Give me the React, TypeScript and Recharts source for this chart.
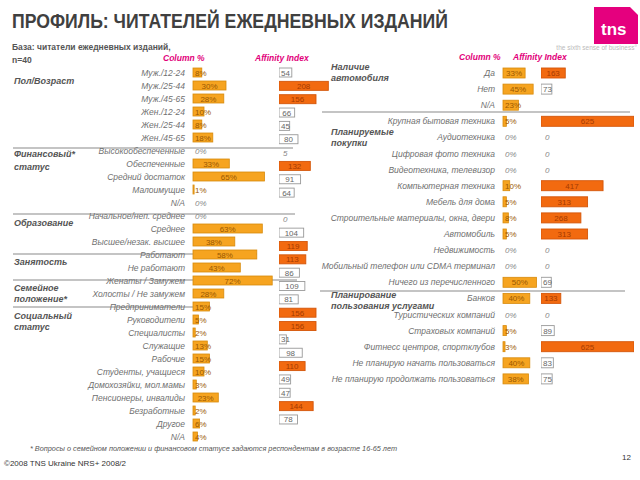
import React from 'react';
import { BarChart, Bar, XAxis, YAxis } from 'recharts';

const FONT = '"Liberation Sans", Arial, sans-serif';

// Left panel
const leftLabels = [
  'Муж./12-24', 'Муж./25-44', 'Муж./45-65', 'Жен./12-24', 'Жен./25-44', 'Жен./45-65',
  'Высокообеспеченные', 'Обеспеченные', 'Средний достаток', 'Малоимущие', 'N/A',
  'Начальное/неп. среднее', 'Среднее', 'Высшее/незак. высшее',
  'Работают', 'Не работают',
  'Женаты / Замужем', 'Холосты / Не замужем',
  'Предприниматели', 'Руководители', 'Специалисты', 'Служащие', 'Рабочие',
  'Студенты, учащиеся', 'Домохозяйки, мол.мамы', 'Пенсионеры, инвалиды', 'Безработные',
  'Другое', 'N/A',
];
const leftColumnPct = [8, 30, 28, 10, 8, 18, 0, 33, 65, 1, 0, 0, 63, 38, 58, 43, 72, 28, 15, 5, 2, 13, 15, 10, 3, 23, 2, 6, 4];
const leftAffinity: (number | null)[] = [54, 208, 156, 66, 45, 80, 5, 132, 91, 64, null, 0, 104, 119, 113, 86, 109, 81, 156, 156, 31, 98, 110, 49, 47, 144, 78, null, null];

// Right panel
const rightLabels = [
  'Да', 'Нет', 'N/A',
  'Крупная бытовая техника', 'Аудиотехника', 'Цифровая фото техника', 'Видеотехника, телевизор',
  'Компьютерная техника', 'Мебель для дома', 'Строительные материалы, окна, двери', 'Автомобиль',
  'Недвижимость', 'Мобильный телефон или CDMA терминал', 'Ничего из перечисленного',
  'Банков', 'Туристических компаний', 'Страховых компаний', 'Фитнесс центров, спортклубов',
  'Не планирую начать пользоваться', 'Не планирую продолжать пользоваться',
];
const rightColumnPct = [33, 45, 23, 5, 0, 0, 0, 10, 5, 8, 5, 0, 0, 50, 40, 0, 5, 3, 40, 38];
const rightAffinity: (number | null)[] = [163, 73, null, 625, 0, 0, 0, 417, 313, 268, 313, 0, 0, 69, 133, 0, 89, 625, 83, 75];

const leftData = leftLabels.map((name, i) => ({ id: String(i), name, pct: leftColumnPct[i], aff: leftAffinity[i] }));
const rightData = rightLabels.map((name, i) => ({ id: String(i), name, pct: rightColumnPct[i], aff: rightAffinity[i] }));

const textW = (s: string) => s.length * 4.4;

const makeColShape = () => (props: any) => {
  const { x, y, width, height, payload } = props;
  const v = payload.pct;
  const t = `${v}%`;
  const ty = y + height / 2 + 3;
  const fits = width >= textW(t) + 4;
  return (
    <g>
      {v > 0 && (
        <rect x={x} y={y} width={width} height={height} fill="#F6A420" stroke="#D88A0C" strokeWidth={0.8} />
      )}
      <text
        x={fits ? x + width / 2 : x + 2}
        y={ty}
        textAnchor={fits ? 'middle' : 'start'}
        fontSize={8}
        fontFamily={FONT}
        fontStyle={v === 0 ? 'italic' : 'normal'}
        fill={v === 0 ? '#888' : '#9A5800'}
      >
        {t}
      </text>
    </g>
  );
};

const makeAffShape = (maxW: number) => (props: any) => {
  const { x, y, height, payload } = props;
  const v = payload.aff;
  if (v == null) return <g />;
  const width = Math.min(props.width, maxW);
  const ty = y + height / 2 + 3;
  if (v < 10) {
    return (
      <text x={x + 4} y={ty} fontSize={8} fontFamily={FONT} fontStyle="italic" fill="#888">
        {String(v)}
      </text>
    );
  }
  const filled = v >= 110;
  const t = String(v);
  const fits = width >= textW(t) + 4;
  return (
    <g>
      <rect
        x={x}
        y={y}
        width={width}
        height={height}
        fill={filled ? '#F26A10' : '#FFFFFF'}
        stroke={filled ? '#D4560A' : '#999'}
        strokeWidth={0.9}
      />
      <text
        x={fits ? x + width / 2 : x + 2}
        y={ty}
        textAnchor={fits ? 'middle' : 'start'}
        fontSize={8}
        fontFamily={FONT}
        fill={filled ? '#A53A00' : '#666'}
      >
        {t}
      </text>
    </g>
  );
};

const tickStyle = { fontSize: 8.5, fill: '#707070', fontStyle: 'italic', fontFamily: FONT };

const abs = (left: number, top: number): React.CSSProperties => ({ position: 'absolute', left, top });

const sectionStyle = { fontSize: 9, fontWeight: 700, fontStyle: 'italic', fill: '#555', fontFamily: FONT } as const;
const headStyle = { fontSize: 8.5, fontWeight: 700, fontStyle: 'italic', fill: '#E2007A', fontFamily: FONT } as const;

export default function App() {
  return (
    <div style={{ position: 'absolute', left: 0, top: 0, width: 640, height: 480, background: '#fff', overflow: 'hidden', fontFamily: FONT }}>
      <svg width={640} height={480} style={abs(0, 0)}>
        <text x={12} y={28} fontSize={20} fontWeight={700} fill="#404040" fontFamily={FONT} textLength={436} lengthAdjust="spacingAndGlyphs">
          ПРОФИЛЬ: ЧИТАТЕЛЕЙ ЕЖЕДНЕВНЫХ ИЗДАНИЙ
        </text>
        {/* logo */}
        <path d="M594 7 H630 L638 15 V44 H594 Z" fill="#E5007E" />
        <text x={601} y={35} fontSize={17} fontWeight={700} fill="#fff" fontFamily={FONT}>tns</text>
        <text x={637} y={50} fontSize={6.5} fill="#bbb" textAnchor="end" fontFamily={FONT}>the sixth sense of business°</text>

        <text x={12} y={50} fontSize={8.5} fontWeight={700} fill="#555" fontFamily={FONT}>База: читатели ежедневных изданий,</text>
        <text x={12} y={63} fontSize={8.5} fontWeight={700} fill="#555" fontFamily={FONT}>n=40</text>

        <text x={163} y={61} {...headStyle}>Column %</text>
        <text x={255} y={61} {...headStyle}>Affinity Index</text>
        <text x={459} y={60} {...headStyle}>Column %</text>
        <text x={513} y={60} {...headStyle}>Affinity Index</text>

        <text x={14} y={84} {...sectionStyle}>Пол/Возраст</text>
        <text x={14} y={157} {...sectionStyle}>Финансовый*</text>
        <text x={14} y={170} {...sectionStyle}>статус</text>
        <text x={14} y={226} {...sectionStyle}>Образование</text>
        <text x={14} y={265} {...sectionStyle}>Занятость</text>
        <text x={14} y={291} {...sectionStyle}>Семейное</text>
        <text x={14} y={302} {...sectionStyle}>положение*</text>
        <text x={14} y={319} {...sectionStyle}>Социальный</text>
        <text x={14} y={330} {...sectionStyle}>статус</text>

        <text x={331} y={70} {...sectionStyle}>Наличие</text>
        <text x={331} y={81} {...sectionStyle}>автомобиля</text>
        <text x={331} y={135} {...sectionStyle}>Планируемые</text>
        <text x={331} y={146} {...sectionStyle}>покупки</text>
        <text x={331} y={298} {...sectionStyle}>Планирование</text>
        <text x={331} y={309} {...sectionStyle}>пользования услугами</text>

        <g stroke="#8a8a8a" strokeWidth={1.2}>
          <line x1={13} y1={148} x2={293} y2={148} />
          <line x1={13} y1={214} x2={295} y2={214} />
          <line x1={13} y1={254} x2={257} y2={254} />
          <line x1={13} y1={280} x2={297} y2={280} />
          <line x1={13} y1={307} x2={200} y2={307} />
          <line x1={322} y1={112} x2={630} y2={112} />
          <line x1={320} y1={291} x2={625} y2={291} />
        </g>

        <text x={30} y={451} fontSize={7.3} fontStyle="italic" fill="#555" fontFamily={FONT}>
          * Вопросы о семейном положении и финансовом статусе задаются респондентам в возрасте 16-65 лет
        </text>
        <text x={4} y={466} fontSize={8} fill="#333" fontFamily={FONT}>©2008 TNS Ukraine  NRS+ 2008/2</text>
        <text x={622} y={460} fontSize={8} fill="#333" fontFamily={FONT}>12</text>
      </svg>

      {/* Left: labels + Column % */}
      <div style={abs(0, 66)}>
        <BarChart width={303} height={377} data={leftData} layout="vertical" margin={{ top: 0, right: 0, bottom: 0, left: 0 }}>
          <XAxis type="number" domain={[0, 100]} hide />
          <YAxis
            type="category"
            dataKey="id"
            width={193}
            interval={0}
            axisLine={false}
            tickLine={false}
            tickSize={0}
            tickMargin={8}
            tick={tickStyle}
            tickFormatter={(v: string) => leftLabels[Number(v)]}
          />
          <Bar dataKey="pct" barSize={9} isAnimationActive={false} shape={makeColShape()} />
        </BarChart>
      </div>

      {/* Left: Affinity Index */}
      <div style={abs(279, 66)}>
        <BarChart width={60} height={387} data={leftData} layout="vertical" margin={{ top: 0, right: 0, bottom: 0, left: 0 }}>
          <XAxis type="number" domain={[0, 253]} hide />
          <YAxis type="category" dataKey="id" hide />
          <Bar dataKey="aff" barSize={9} isAnimationActive={false} shape={makeAffShape(60)} />
        </BarChart>
      </div>

      {/* Right: labels + Column % */}
      <div style={abs(0, 65)}>
        <BarChart width={570} height={322} data={rightData} layout="vertical" margin={{ top: 0, right: 0, bottom: 0, left: 0 }}>
          <XAxis type="number" domain={[0, 100]} hide />
          <YAxis
            type="category"
            dataKey="id"
            width={503}
            interval={0}
            axisLine={false}
            tickLine={false}
            tickSize={0}
            tickMargin={8}
            tick={tickStyle}
            tickFormatter={(v: string) => rightLabels[Number(v)]}
          />
          <Bar dataKey="pct" barSize={10} isAnimationActive={false} shape={makeColShape()} />
        </BarChart>
      </div>

      {/* Right: Affinity Index */}
      <div style={abs(541, 65)}>
        <BarChart width={93} height={322} data={rightData} layout="vertical" margin={{ top: 0, right: 0, bottom: 0, left: 0 }}>
          <XAxis type="number" domain={[0, 564]} hide />
          <YAxis type="category" dataKey="id" hide />
          <Bar dataKey="aff" barSize={10} isAnimationActive={false} shape={makeAffShape(93)} />
        </BarChart>
      </div>
    </div>
  );
}
